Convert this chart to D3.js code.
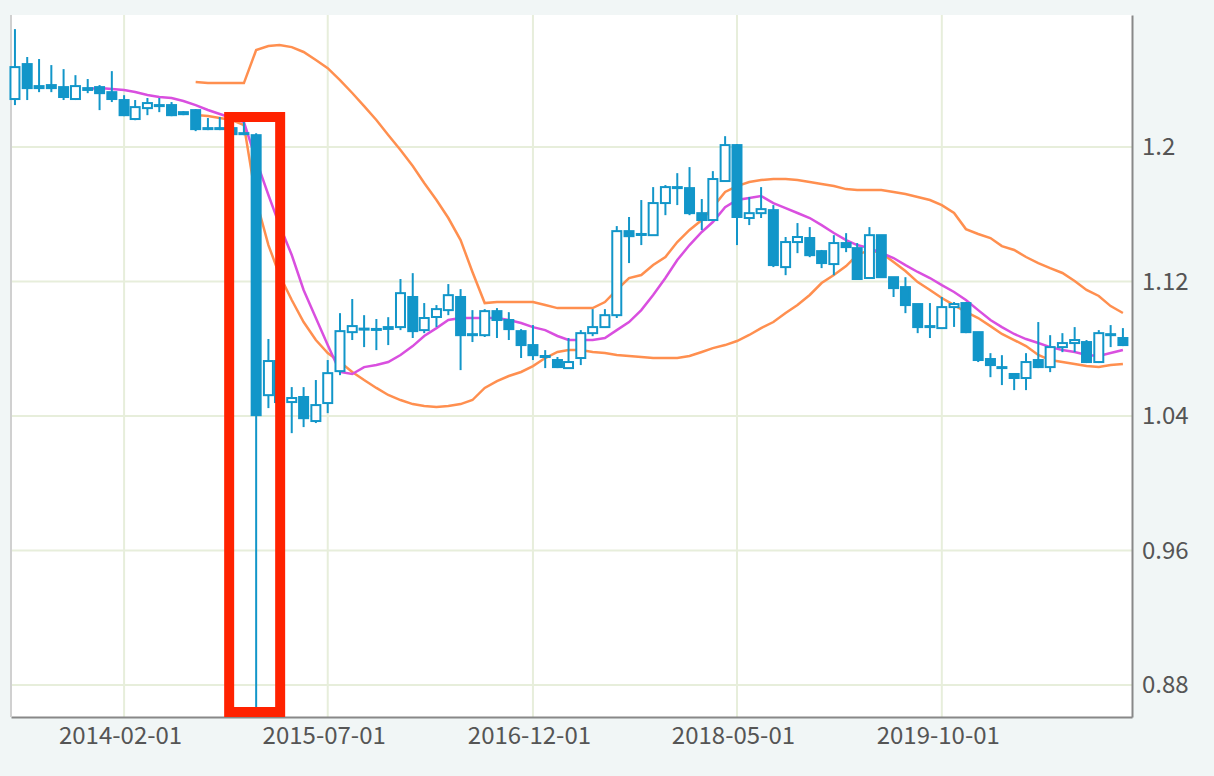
<!DOCTYPE html>
<html>
<head>
<meta charset="utf-8">
<script src="https://cdn.jsdelivr.net/npm/d3@7"></script>
<style>
  body { margin: 0; background: #f1f6f6; }
  svg { display: block; }
</style>
</head>
<body>
<svg width="1214" height="776"></svg>
<script>
// monthly candles, first one is 2013-05
const firstMonth = new Date(2013, 4, 1);
const opens = [1.2286,1.2494,1.2351,1.2369,1.2357,1.2286,1.2351,1.2357,1.2327,1.2280,
  1.2167,1.2232,1.2250,1.2250,1.2196,1.2220,1.2107,1.2113,1.2113,1.2077,
  1.2071,1.0524,1.0727,1.0483,1.0513,1.0370,1.0477,1.0667,1.0899,1.0915,
  1.0918,1.0918,1.0929,1.1108,1.0911,1.0989,1.1030,1.1108,1.0881,1.0881,
  1.1024,1.0971,1.0905,1.0822,1.0757,1.0733,1.0685,1.0745,1.0893,1.0929,
  1.1000,1.1500,1.1480,1.1476,1.1667,1.1762,1.1756,1.1607,1.1566,1.1798,
  1.2012,1.1578,1.1607,1.1625,1.1286,1.1435,1.1459,1.1381,1.1304,1.1429,
  1.1399,1.1221,1.1476,1.1226,1.1167,1.1066,1.0929,1.0923,1.1048,1.1072,
  1.0899,1.0739,1.0691,1.0650,1.0626,1.0733,1.0691,1.0810,1.0834,1.0840,
  1.0721,1.0887,1.0864];
const highs = [1.2702,1.2536,1.2524,1.2488,1.2464,1.2428,1.2405,1.2369,1.2452,1.2309,
  1.2280,1.2292,1.2292,1.2268,1.2214,1.2226,1.2173,1.2179,1.2125,1.2149,
  1.2083,1.0858,1.0810,1.0572,1.0572,1.0614,1.0733,1.1012,1.1096,1.1000,
  1.0977,1.0988,1.1215,1.1250,1.1072,1.1060,1.1185,1.1155,1.1030,1.1036,
  1.1042,1.1018,1.0917,1.0941,1.0792,1.0751,1.0864,1.0911,1.1036,1.1036,
  1.1530,1.1584,1.1685,1.1762,1.1774,1.1845,1.1881,1.1691,1.1857,1.2065,
  1.2018,1.1703,1.1762,1.1655,1.1465,1.1548,1.1524,1.1388,1.1476,1.1488,
  1.1429,1.1524,1.1476,1.1226,1.1226,1.1066,1.1072,1.1108,1.1078,1.1078,
  1.0899,1.0774,1.0762,1.0656,1.0774,1.0959,1.0881,1.0893,1.0929,1.0852,
  1.0911,1.0941,1.0923];
const lows = [1.2250,1.2280,1.2327,1.2327,1.2280,1.2280,1.2321,1.2220,1.2268,1.2184,
  1.2160,1.2190,1.2208,1.2184,1.2190,1.2095,1.2101,1.2101,1.2071,1.2071,
  0.8668,1.0447,1.0430,1.0298,1.0334,1.0358,1.0417,1.0643,1.0852,1.0810,
  1.0792,1.0822,1.0911,1.0864,1.0893,1.0929,1.1000,1.0673,1.0840,1.0870,
  1.0864,1.0852,1.0745,1.0733,1.0685,1.0685,1.0680,1.0703,1.0875,1.0929,
  1.0983,1.1310,1.1417,1.1476,1.1595,1.1655,1.1595,1.1506,1.1566,1.1798,
  1.1417,1.1536,1.1578,1.1286,1.1238,1.1369,1.1345,1.1280,1.1238,1.1375,
  1.1215,1.1215,1.1226,1.1108,1.1012,1.0893,1.0864,1.0923,1.0930,1.0893,
  1.0721,1.0631,1.0584,1.0554,1.0554,1.0685,1.0661,1.0780,1.0780,1.0715,
  1.0715,1.0810,1.0816];
const closes = [1.2476,1.2351,1.2363,1.2351,1.2298,1.2363,1.2340,1.2321,1.2286,1.2190,
  1.2238,1.2262,1.2244,1.2190,1.2208,1.2107,1.2113,1.2110,1.2077,1.2083,
  1.0405,1.0727,1.0483,1.0507,1.0387,1.0465,1.0655,1.0905,1.0935,1.0920,
  1.0915,1.0929,1.1131,1.0905,1.0983,1.1036,1.1119,1.0881,1.0887,1.1024,
  1.0971,1.0917,1.0822,1.0762,1.0751,1.0691,1.0721,1.0893,1.0929,1.1000,
  1.1500,1.1470,1.1483,1.1667,1.1762,1.1756,1.1607,1.1566,1.1810,1.2012,
  1.1584,1.1607,1.1631,1.1298,1.1435,1.1465,1.1357,1.1310,1.1429,1.1405,
  1.1215,1.1476,1.1226,1.1161,1.1060,1.0929,1.0935,1.1048,1.1066,1.0899,
  1.0733,1.0703,1.0685,1.0626,1.0721,1.0691,1.0810,1.0834,1.0852,1.0721,
  1.0893,1.0881,1.0822];

// bands start at candle 15, moving average at candle 6
const bandStart = 15;
const upperBand = [1.2387,1.2381,1.2381,1.2381,1.2381,1.2578,1.2601,1.2607,1.2595,1.2566,
  1.2518,1.2470,1.2399,1.2322,1.2244,1.2161,1.2072,1.1983,1.1887,1.1786,
  1.1685,1.1578,1.1447,1.1257,1.1072,1.1078,1.1078,1.1078,1.1078,1.1060,
  1.1042,1.1042,1.1042,1.1042,1.1078,1.1150,1.1221,1.1239,1.1298,1.1346,
  1.1435,1.1507,1.1566,1.1643,1.1733,1.1768,1.1792,1.1804,1.1810,1.1810,
  1.1804,1.1792,1.1780,1.1768,1.1750,1.1745,1.1745,1.1745,1.1733,1.1721,
  1.1703,1.1685,1.1655,1.1608,1.1512,1.1483,1.1459,1.1411,1.1388,1.1346,
  1.1310,1.1280,1.1251,1.1203,1.1150,1.1114,1.1054,1.1013];
const lowerBand = [1.2191,1.2185,1.2173,1.2161,1.2131,1.1685,1.1417,1.1239,1.1090,1.0959,
  1.0852,1.0775,1.0721,1.0662,1.0614,1.0567,1.0525,1.0495,1.0471,1.0459,
  1.0453,1.0459,1.0471,1.0495,1.0567,1.0608,1.0638,1.0662,1.0697,1.0745,
  1.0781,1.0793,1.0793,1.0781,1.0775,1.0763,1.0757,1.0751,1.0745,1.0745,
  1.0745,1.0757,1.0781,1.0804,1.0822,1.0846,1.0882,1.0923,1.0959,1.1013,
  1.1060,1.1120,1.1191,1.1239,1.1292,1.1358,1.1388,1.1370,1.1316,1.1263,
  1.1197,1.1150,1.1102,1.1060,1.1019,1.0983,1.0935,1.0888,1.0852,1.0816,
  1.0763,1.0733,1.0721,1.0709,1.0697,1.0691,1.0703,1.0709];
const maStart = 6;
const movingAvg = [1.2345,1.2351,1.2345,1.2340,1.2328,1.2310,1.2298,1.2292,1.2274,
  1.2250,1.2221,1.2197,1.2173,1.2149,1.1923,1.1715,1.1536,1.1358,1.1150,
  1.0983,1.0822,1.0662,1.0650,1.0691,1.0703,1.0721,1.0763,1.0816,1.0876,
  1.0923,1.0971,1.0983,1.0983,1.0983,1.0983,1.0971,1.0953,1.0929,1.0911,
  1.0876,1.0852,1.0852,1.0852,1.0864,1.0911,1.0959,1.1030,1.1120,1.1221,
  1.1328,1.1417,1.1495,1.1554,1.1643,1.1685,1.1697,1.1709,1.1667,1.1637,
  1.1608,1.1578,1.1536,1.1489,1.1447,1.1417,1.1399,1.1370,1.1340,1.1298,
  1.1257,1.1221,1.1179,1.1138,1.1090,1.1030,1.0971,1.0929,1.0888,1.0858,
  1.0834,1.0810,1.0793,1.0781,1.0763,1.0757,1.0775,1.0793];

const xTicks = ["2014-02-01", "2015-07-01", "2016-12-01", "2018-05-01", "2019-10-01"];
const yTicks = [0.88, 0.96, 1.04, 1.12, 1.2];

const svg = d3.select("svg");
const plot = { left: 11, right: 1132, top: 15, bottom: 717 };
const parse = d3.timeParse("%Y-%m-%d");
const months = d3.timeMonth.range(firstMonth, d3.timeMonth.offset(firstMonth, opens.length));

const x = d3.scaleTime()
  .domain([new Date(2013, 3, 21), new Date(2021, 0, 24)])
  .range([plot.left, plot.right]);
const y = d3.scaleLinear()
  .domain([0.8609, 1.2786])
  .range([plot.bottom, plot.top]);

svg.append("rect")
  .attr("x", plot.left).attr("y", plot.top)
  .attr("width", plot.right - plot.left).attr("height", plot.bottom - plot.top)
  .attr("fill", "#fff");

// grid
const grid = svg.append("g").attr("stroke", "#e7eedb").attr("stroke-width", 2);
grid.selectAll(".gx").data(xTicks).enter().append("line")
  .attr("x1", (d) => x(parse(d))).attr("x2", (d) => x(parse(d)))
  .attr("y1", plot.top).attr("y2", plot.bottom);
grid.selectAll(".gy").data(yTicks).enter().append("line")
  .attr("x1", plot.left).attr("x2", plot.right)
  .attr("y1", (d) => y(d)).attr("y2", (d) => y(d));

// axes
const xAxis = d3.axisBottom(x)
  .tickValues(xTicks.map(parse))
  .tickFormat(d3.timeFormat("%Y-%m-%d"))
  .tickSize(0).tickPadding(10);
const xAxisG = svg.append("g")
  .attr("transform", `translate(0,${plot.bottom})`)
  .call(xAxis);
xAxisG.select(".domain").attr("stroke", "#888").attr("stroke-width", 2);
xAxisG.selectAll(".tick text").attr("dx", -4);

const yAxis = d3.axisRight(y).tickValues(yTicks).tickFormat((d) => d3.format("")(d))
  .tickSize(0).tickPadding(10);
const yAxisG = svg.append("g")
  .attr("transform", `translate(${plot.right},0)`)
  .call(yAxis);
yAxisG.select(".domain").attr("stroke", "#888").attr("stroke-width", 2);

svg.append("line")
  .attr("x1", plot.left).attr("x2", plot.left)
  .attr("y1", plot.top).attr("y2", plot.bottom)
  .attr("stroke", "#d0d0d0").attr("stroke-width", 2);

svg.selectAll(".tick text")
  .attr("font-family", "'Noto Sans CJK JP', 'Open Sans', sans-serif")
  .attr("font-size", 24).attr("fill", "#555");

// bands and moving average
const line = (start) => d3.line()
  .x((d, i) => x(months[start + i]))
  .y((d) => y(d));
[upperBand, lowerBand].forEach((band) => {
  svg.append("path").datum(band)
    .attr("d", line(bandStart))
    .attr("fill", "none").attr("stroke", "#ff8f4f").attr("stroke-width", 2.5);
});
svg.append("path").datum(movingAvg)
  .attr("d", line(maStart))
  .attr("fill", "none").attr("stroke", "#d94fdf").attr("stroke-width", 2.5);

// candles
const candles = opens.map((o, i) => ({
  date: months[i], open: o, high: highs[i], low: lows[i], close: closes[i],
}));
const blue = "#1296c9";
const cw = 9;
const cg = svg.append("g");
cg.selectAll("line").data(candles).enter().append("line")
  .attr("x1", (d) => x(d.date)).attr("x2", (d) => x(d.date))
  .attr("y1", (d) => y(d.high)).attr("y2", (d) => y(d.low))
  .attr("stroke", blue).attr("stroke-width", 2);
cg.selectAll("rect").data(candles).enter().append("rect")
  .attr("x", (d) => x(d.date) - cw / 2)
  .attr("y", (d) => y(Math.max(d.open, d.close)))
  .attr("width", cw)
  .attr("height", (d) => Math.max(1, Math.abs(y(d.open) - y(d.close))))
  .attr("fill", (d) => (d.close < d.open ? blue : "#fff"))
  .attr("stroke", blue).attr("stroke-width", 2);

// highlight around the January 2015 drop
const hl = candles[20].date;
svg.append("rect")
  .attr("x", x(hl) - 27).attr("y", 117)
  .attr("width", 51).attr("height", 595)
  .attr("fill", "none").attr("stroke", "#ff2200").attr("stroke-width", 10);
</script>
</body>
</html>
